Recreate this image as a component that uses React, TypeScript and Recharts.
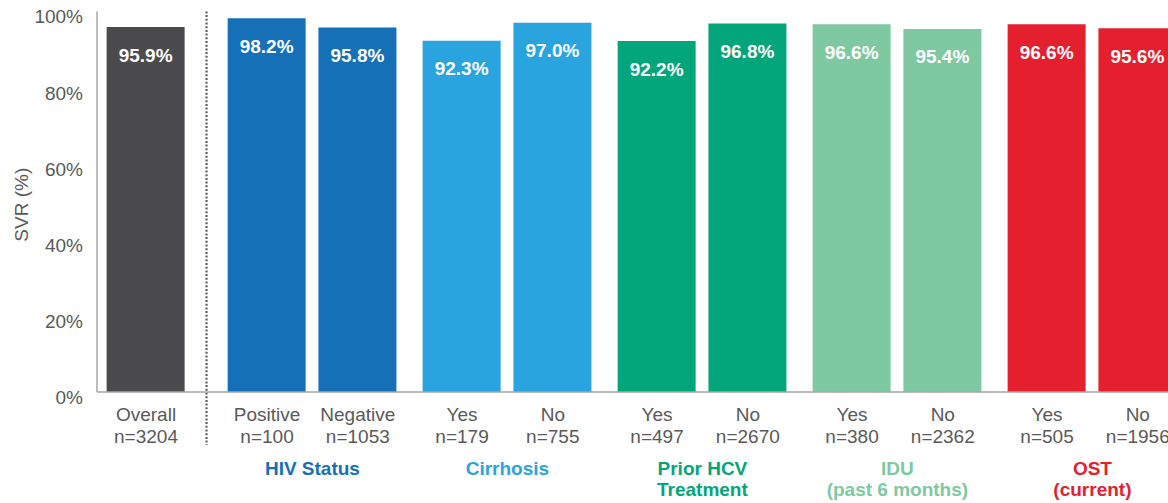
import React from 'react'
import {
  BarChart, Bar, XAxis, YAxis, Cell, LabelList, ReferenceLine,
} from 'recharts'

// --- data ---
const CATEGORIES = ['Overall', 'Positive', 'Negative', 'Yes', 'No', 'Yes', 'No', 'Yes', 'No', 'Yes', 'No']
const N_VALUES = [3204, 100, 1053, 179, 755, 497, 2670, 380, 2362, 505, 1956]
const SVR = [95.9, 98.2, 95.8, 92.3, 97.0, 92.2, 96.8, 96.6, 95.4, 96.6, 95.6]
// -1 = overall, otherwise index into GROUP_NAMES
const BAR_GROUP = [-1, 0, 0, 1, 1, 2, 2, 3, 3, 4, 4]
const GROUP_NAMES = [
  ['HIV Status'],
  ['Cirrhosis'],
  ['Prior HCV', 'Treatment'],
  ['IDU', '(past 6 months)'],
  ['OST', '(current)'],
]
const Y_TICKS = [0, 20, 40, 60, 80, 100]

const OVERALL_COLOUR = '#4b4b4d'
const GROUP_COLOURS = ['#1570b8', '#29a4df', '#03a67a', '#7ec9a1', '#e4202f']
const TEXT = '#595959'
const AXIS = '#a6a6a6'
const FONT = '"Liberation Sans", Arial, sans-serif'

// layout of the slots along the x axis (one unit = one bar step)
const FIRST_GROUP = 1.333
const GROUP_STEP = 2.148

const seen: Record<number, number> = {}
const rows = CATEGORIES.map((name, i) => {
  const g = BAR_GROUP[i]
  const m = seen[g] ?? 0
  seen[g] = m + 1
  const x = g < 0 ? 0 : FIRST_GROUP + g * GROUP_STEP + m
  return { x, name, n: N_VALUES[i], svr: SVR[i], g }
})
const barTicks = rows.map((r) => r.x)
const groupTicks = GROUP_NAMES.map((_, g) => FIRST_GROUP + g * GROUP_STEP + 0.5)

function BarTick(props: any) {
  const { x, y, payload } = props
  const row = rows.find((r) => Math.abs(r.x - payload.value) < 1e-6)
  if (!row) return null
  return (
    <g>
      <text x={x} y={y + 22} textAnchor="middle" dominantBaseline="central" fill={TEXT} fontSize={19} fontFamily={FONT}>
        {row.name}
      </text>
      <text x={x} y={y + 44} textAnchor="middle" dominantBaseline="central" fill={TEXT} fontSize={19} fontFamily={FONT}>
        n={row.n}
      </text>
    </g>
  )
}

function GroupTick(props: any) {
  const { x, y, payload } = props
  const g = groupTicks.findIndex((t) => Math.abs(t - payload.value) < 1e-6)
  if (g < 0) return null
  return (
    <g>
      {GROUP_NAMES[g].map((line, k) => (
        <text
          key={k}
          x={x}
          y={y + 16 + k * 21.5}
          textAnchor="middle"
          dominantBaseline="central"
          fill={GROUP_COLOURS[g]}
          fontSize={19}
          fontWeight="bold"
          fontFamily={FONT}
        >
          {line}
        </text>
      ))}
    </g>
  )
}

function YTick(props: any) {
  const { x, y, payload } = props
  return (
    <text x={x} y={y + 5.5} textAnchor="end" dominantBaseline="central" fill={TEXT} fontSize={19} fontFamily={FONT}>
      {payload.value}%
    </text>
  )
}

function ValueLabel(props: any) {
  const { x, y, width, value } = props
  return (
    <text
      x={x + width / 2}
      y={y + 28}
      textAnchor="middle"
      dominantBaseline="central"
      fill="#ffffff"
      fontSize={19}
      fontWeight="bold"
      fontFamily={FONT}
    >
      {value.toFixed(1)}%
    </text>
  )
}

function Divider(props: any) {
  const top = Math.min(props.y1, props.y2)
  const bottom = Math.max(props.y1, props.y2) + 53
  return (
    <line
      x1={props.x1}
      x2={props.x1}
      y1={top}
      y2={bottom}
      stroke="#5e5e5e"
      strokeWidth={2.2}
      strokeDasharray="2 1.7"
    />
  )
}

export default function App() {
  return (
    <div style={{ position: 'absolute', left: 8, top: 0, width: 1160, height: 503, overflow: 'hidden', fontFamily: FONT }}>
      <BarChart
        width={1182}
        height={503}
        data={rows}
        margin={{ top: 11.4, right: 0, left: 0, bottom: 0 }}
      >
        <XAxis
          dataKey="x"
          type="number"
          domain={[-0.54, 11.5]}
          ticks={barTicks}
          interval={0}
          height={60}
          tickSize={0}
          tickMargin={0}
          tickLine={false}
          axisLine={{ stroke: AXIS, strokeWidth: 1.5 }}
          tick={<BarTick />}
        />
        <XAxis
          xAxisId="grp"
          dataKey="x"
          type="number"
          domain={[-0.54, 11.5]}
          ticks={groupTicks}
          interval={0}
          height={51}
          tickSize={0}
          tickMargin={0}
          tickLine={false}
          axisLine={false}
          tick={<GroupTick />}
        />
        <YAxis
          type="number"
          domain={[0, 100]}
          ticks={Y_TICKS}
          interval={0}
          width={89}
          tickSize={0}
          tickMargin={14}
          tickLine={false}
          axisLine={{ stroke: AXIS, strokeWidth: 1.5 }}
          tick={<YTick />}
          label={({ viewBox }: any) => {
            const cx = viewBox.x + 14
            const cy = viewBox.y + viewBox.height / 2 + 3
            return (
              <text
                x={cx}
                y={cy}
                transform={`rotate(-90, ${cx}, ${cy})`}
                textAnchor="middle"
                dominantBaseline="central"
                fill={TEXT}
                fontSize={19}
                fontFamily={FONT}
              >
                SVR (%)
              </text>
            )
          }}
        />
        <ReferenceLine x={FIRST_GROUP / 2} shape={<Divider />} ifOverflow="visible" />
        <Bar dataKey="svr" barSize={78} isAnimationActive={false}>
          {rows.map((r, i) => (
            <Cell key={i} fill={r.g < 0 ? OVERALL_COLOUR : GROUP_COLOURS[r.g]} />
          ))}
          <LabelList dataKey="svr" content={<ValueLabel />} />
        </Bar>
      </BarChart>
    </div>
  )
}
